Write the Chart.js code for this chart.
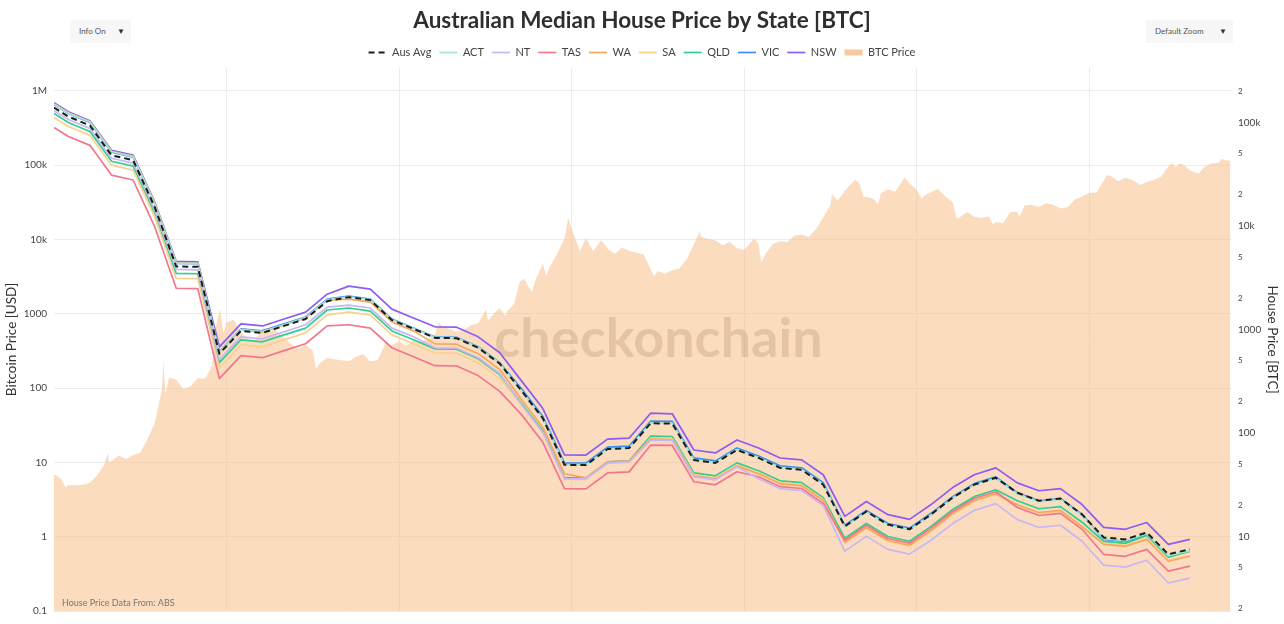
<!DOCTYPE html>
<html><head><meta charset="utf-8">
<script src="https://cdn.jsdelivr.net/npm/chart.js@4.4.1/dist/chart.umd.min.js"></script>
<style>
html,body{margin:0;padding:0;background:#fff;overflow:hidden;}
#wrap{position:relative;width:1284px;height:624px;}
canvas{display:block;}
.dd{position:absolute;top:20px;height:23px;background:#f7f7f7;font-family:Lato,'Open Sans',sans-serif;font-size:8px;color:#555;line-height:23px;box-sizing:border-box;padding-left:9px;}
.dd span{position:absolute;right:6px;top:0;font-size:8px;color:#333;}
</style></head><body>
<div id="wrap"><canvas id="c" width="1284" height="624"></canvas>
<div class="dd" style="left:70px;width:61px;">Info On<span>▼</span></div>
<div class="dd" style="left:1146px;width:87px;">Default Zoom<span>▼</span></div>
</div>
<script>
// ---- House price data (quarterly, in BTC) ----
const houseDates = ['2012-01','2012-03','2012-06','2012-09','2012-12','2013-03','2013-06','2013-09','2013-12',
 '2014-03','2014-06','2014-09','2014-12','2015-03','2015-06','2015-09','2015-12','2016-03','2016-06','2016-09','2016-12',
 '2017-03','2017-06','2017-09','2017-12','2018-03','2018-06','2018-09','2018-12','2019-03','2019-06','2019-09','2019-12',
 '2020-03','2020-06','2020-09','2020-12','2021-03','2021-06','2021-09','2021-12','2022-03','2022-06','2022-09','2022-12',
 '2023-03','2023-06','2023-09','2023-12','2024-03','2024-06','2024-09','2024-12','2025-03'];
const ausAvg = [139000,114000,93500,48200,43200,15300,4060,4030,582,968,925,1081,1262,1875,2051,1919,1233,1012,828,822,665,467,257,138,49.1,49.0,69.8,71.4,124,123,54.8,51.3,68.4,57.3,45.9,44.0,31.6,12.5,17.4,13.0,11.7,16.3,23.7,31.6,36.8,26.4,22.1,23.2,16.3,9.77,9.35,10.9,6.71,7.50];
const act = [150000,123000,101000,52100,46700,16500,4380,4350,599,997,953,1110,1300,1930,2070,1940,1245,1022,836,830,672,472,257,138,49.1,49.0,69.8,71.4,125,124,55.3,51.8,69.1,57.9,46.4,44.4,31.9,12.4,17.2,12.9,11.6,16.1,23.5,31.3,36.4,25.8,21.6,22.7,15.9,9.48,9.07,10.6,6.51,7.28];
const nt = [130000,107000,87500,45100,40400,14300,3800,3770,510,848,810,947,1110,1640,1720,1610,1030,848,664,659,533,375,189,101,36.0,36.0,51.2,52.4,85.2,84.5,37.6,35.2,47.0,36.0,28.9,27.7,19.9,7.20,10.0,7.49,6.74,9.18,13.3,17.8,20.7,14.5,12.2,12.8,8.98,5.27,5.04,5.88,3.54,3.95];
const tas = [89400,73300,60100,31000,27800,9840,2500,2480,335,558,533,623,727,1080,1110,1030,665,545,446,443,358,252,151,81.1,28.9,28.8,41.0,42.0,76.3,75.6,33.7,31.5,42.1,37.7,30.2,29.0,20.8,9.18,12.8,9.54,8.59,12.0,17.4,23.2,27.0,19.0,15.9,16.7,11.7,6.71,6.42,7.49,4.61,5.15];
const wa = [152000,124000,102000,52600,47200,16700,4400,4360,595,989,945,1100,1290,1920,1963,1836,1180,968,725,720,583,409,211,113,40.3,36.8,52.4,53.6,87.0,86.3,38.5,36.0,48.0,40.2,32.2,30.9,22.2,8.78,12.2,9.13,8.21,11.4,16.6,22.2,25.8,20.2,17.0,17.8,12.5,8.37,8.01,9.34,5.75,6.43];
const sa = [111000,91400,75000,38700,34600,12300,3110,3090,427,711,679,793,926,1380,1470,1380,885,727,595,590,477,335,186,100,35.6,35.5,50.6,51.8,89.0,88.3,39.3,36.8,49.1,41.1,33.0,31.6,22.7,8.59,12.0,8.93,8.04,11.2,16.3,21.7,25.3,19.8,16.6,17.4,12.2,8.56,8.19,9.55,5.88,6.57];
const qld = [122000,99900,81900,42200,37800,13400,3480,3450,477,794,759,886,1030,1540,1610,1500,967,793,649,644,521,366,193,104,36.8,36.8,52.4,53.6,93.0,92.3,41.1,38.5,51.3,43.0,34.4,33.0,23.7,9.59,13.3,9.97,8.97,12.5,18.2,24.2,28.2,22.1,18.5,19.4,13.7,8.95,8.56,10.2,6.28,7.18];
const vic = [149000,122000,100000,51500,46200,16400,4340,4310,608,1010,967,1130,1320,1960,2100,1960,1260,1030,846,840,680,477,269,144,51.3,51.2,72.9,74.6,130,129,57.3,53.6,71.5,59.9,48.0,46.0,33.0,12.8,17.8,13.3,12.0,16.7,24.2,32.3,37.6,26.4,22.1,23.2,16.3,9.35,8.95,10.4,6.42,7.18];
const nsw = [155000,127000,104000,53800,48300,17100,4540,4500,679,1130,1080,1260,1470,2190,2620,2450,1570,1290,1060,1050,848,595,320,172,61.2,61.1,87.0,89.0,155,153,68.3,64.0,85.3,71.5,57.2,54.9,39.4,15.6,21.7,16.2,14.6,20.3,29.6,39.4,45.9,32.9,27.6,28.9,20.3,12.2,11.7,13.6,8.37,9.35];

// ---- BTC price (USD) ----
const btcDates = ['2012-01-01','2012-01-15','2012-02-01','2012-02-20','2012-03-01','2012-04-01','2012-05-01','2012-06-01','2012-07-01','2012-08-01','2012-08-16','2012-08-20','2012-09-01','2012-10-01','2012-11-01','2012-12-01',
'2013-01-01','2013-02-01','2013-03-01','2013-04-01','2013-04-09','2013-04-16','2013-05-01','2013-06-01','2013-07-01','2013-08-01','2013-09-01','2013-10-01','2013-11-01','2013-11-18','2013-12-04','2013-12-18',
'2014-01-01','2014-02-01','2014-03-01','2014-04-01','2014-05-01','2014-06-01','2014-07-01','2014-08-01','2014-09-01','2014-10-01','2014-11-01','2014-12-01',
'2015-01-01','2015-01-14','2015-02-01','2015-03-01','2015-04-01','2015-05-01','2015-06-01','2015-07-01','2015-08-01','2015-09-01','2015-10-01','2015-11-04','2015-12-01',
'2016-01-01','2016-02-01','2016-03-01','2016-04-01','2016-05-01','2016-06-01','2016-06-17','2016-07-01','2016-08-01','2016-09-01','2016-10-01','2016-11-01','2016-12-01',
'2017-01-04','2017-01-12','2017-02-01','2017-03-01','2017-03-25','2017-04-01','2017-05-01','2017-05-25','2017-06-12','2017-07-15','2017-08-01','2017-09-01','2017-09-15','2017-10-01','2017-11-01','2017-12-01','2017-12-17',
'2018-01-01','2018-02-06','2018-03-01','2018-04-01','2018-05-05','2018-06-01','2018-07-01','2018-08-01','2018-09-01','2018-10-01','2018-11-01','2018-12-15',
'2019-01-01','2019-02-01','2019-03-01','2019-04-01','2019-05-01','2019-06-01','2019-06-26','2019-07-01','2019-08-01','2019-09-01','2019-10-01','2019-11-01','2019-12-01',
'2020-01-01','2020-02-12','2020-03-01','2020-03-13','2020-04-01','2020-05-01','2020-06-01','2020-07-01','2020-08-01','2020-09-01','2020-10-01','2020-11-01','2020-12-01',
'2021-01-01','2021-01-08','2021-02-01','2021-03-01','2021-04-14','2021-05-01','2021-05-19','2021-06-01','2021-07-01','2021-07-20','2021-08-01','2021-09-01','2021-10-01','2021-11-10','2021-12-01',
'2022-01-01','2022-01-24','2022-02-01','2022-03-01','2022-03-29','2022-05-01','2022-06-01','2022-06-18','2022-07-01','2022-08-01','2022-09-01','2022-10-01','2022-11-01','2022-11-21','2022-12-01',
'2023-01-01','2023-02-01','2023-03-01','2023-03-10','2023-04-01','2023-05-01','2023-06-01','2023-07-01','2023-08-01','2023-09-01','2023-10-01','2023-11-01','2023-12-01',
'2024-01-01','2024-02-01','2024-03-01','2024-03-14','2024-04-01','2024-05-01','2024-06-01','2024-07-01','2024-08-05','2024-09-01','2024-10-01','2024-11-01','2024-12-01','2024-12-17',
'2025-01-01','2025-01-20','2025-02-01','2025-03-01','2025-04-08','2025-05-01','2025-06-01','2025-07-01','2025-07-14','2025-08-01','2025-08-20'];
const btcPrice = [6.8,6.6,5.9,4.6,4.9,4.9,5.0,5.3,6.7,9.3,13.5,9.8,10.5,12.4,11.1,12.6,
13.5,20.4,33.4,93,230,82,139,129,97,106,135,133,198,700,1150,540,
755,830,560,455,445,630,640,585,480,390,338,378,
320,180,217,254,244,236,230,263,285,230,236,400,377,
430,368,437,416,448,531,760,673,624,573,609,700,743,
1130,800,970,1190,930,1080,1350,2700,2950,1950,2875,4700,3200,4340,6470,10200,19500,
14000,6900,10400,6900,9800,7500,6400,7730,7000,6600,6300,3200,
3740,3450,3850,4100,5350,8570,12900,10800,10100,9630,8300,9200,7570,
7200,10300,8600,4900,6440,8650,9460,9140,11300,11650,10780,13800,19700,
29000,40800,33100,45100,63500,57700,37000,37300,35000,29800,41500,47100,43800,67500,57000,
46300,35000,38500,43200,47400,37700,31800,19000,19800,23300,20100,19400,20500,15800,17200,
16500,23100,23600,20200,28500,29200,27200,30500,29200,26000,27000,34500,37700,
42300,42600,61200,73000,71300,60600,67500,62700,54000,59000,63300,70200,96400,106000,
93400,105000,102400,84400,77000,94200,104600,107100,121000,115700,114000];

// ---- axis ticks ----
const leftTicks = [0.1,1,10,100,1000,1e4,1e5,1e6];
const leftLabels = ['0.1','1','10','100','1000','10k','100k','1M'];
const rightTicks = [2,5,10,20,50,100,200,500,1000,2000,5000,1e4,2e4,5e4,1e5,2e5];
const rightLabels = ['2','5','10','2','5','100','2','5','1000','2','5','10k','2','5','100k','2'];
const yearGrid = [2014,2016,2018,2020,2022,2024];

const toYear = s => { const p = s.split('-').map(Number); return p[0] + (p[1]-1)/12 + ((p[2]||1)-1)/365.25; };
const hx = houseDates.map(toYear);
const pts = arr => arr.map((v,i)=>({x:hx[i], y:v}));
const btcPts = btcPrice.map((v,i)=>({x:toYear(btcDates[i]), y:v}));

const lineDs = (label, arr, color, extra={}) => Object.assign({
  label, data: pts(arr), borderColor: color, backgroundColor: color, borderWidth: 1.7,
  pointRadius: 0, tension: 0, fill: false, yAxisID: 'y1', borderJoinStyle: 'round'
}, extra);

const datasets = [
  lineDs('Aus Avg', ausAvg, '#1c1c1c', {borderDash:[6,4], borderWidth:2}),
  lineDs('ACT', act, '#a3e6cc'),
  lineDs('NT', nt, '#c9b6f4'),
  lineDs('TAS', tas, '#f3768d'),
  lineDs('WA', wa, '#f8a65c'),
  lineDs('SA', sa, '#f9d18f'),
  lineDs('QLD', qld, '#2fd08d'),
  lineDs('VIC', vic, '#3d8cf3'),
  lineDs('NSW', nsw, '#8b5cf6'),
  {label:'BTC Price', data: btcPts, isArea:true, borderWidth:0, borderColor:'rgba(0,0,0,0)',
   backgroundColor:'rgba(247,188,132,0.52)', fill:'start', pointRadius:0, tension:0, yAxisID:'y'}
];

const FONT = "Lato, 'Open Sans', sans-serif";
const overlay = {
  id: 'overlay',
  afterDatasetsDraw(chart) {
    const {ctx, chartArea: a} = chart;
    ctx.save();
    ctx.font = "bold 54px " + FONT;
    ctx.fillStyle = 'rgba(140,98,58,0.20)';
    ctx.textAlign = 'center'; ctx.textBaseline = 'middle';
    ctx.fillText('checkonchain', (a.left + a.right)/2 + 16, (a.top + a.bottom)/2);
    ctx.font = "9px " + FONT;
    ctx.fillStyle = '#777';
    ctx.textAlign = 'left'; ctx.textBaseline = 'alphabetic';
    ctx.fillText('House Price Data From: ABS', a.left + 8, a.bottom - 5);
    ctx.restore();
  }
};

new Chart(document.getElementById('c'), {
  type: 'line',
  data: { datasets },
  plugins: [overlay],
  options: {
    responsive: false, animation: false, devicePixelRatio: 1,
    layout: { padding: {top: 0, bottom: 0, left: 0, right: 0} },
    plugins: {
      tooltip: {enabled: false},
      title: { display: true, text: 'Australian Median House Price by State [BTC]', color: '#2e2e2e',
        font: {family: FONT, size: 22.5, weight: 'bold'}, padding: {top: 7, bottom: 5} },
      legend: { display: true, position: 'top',
        labels: { usePointStyle: true, pointStyleWidth: 18, boxHeight: 8, padding: 8, color: '#444',
          font: {family: FONT, size: 11},
          generateLabels(chart) {
            const items = Chart.defaults.plugins.legend.labels.generateLabels(chart);
            items.forEach(it => {
              const ds = chart.data.datasets[it.datasetIndex];
              it.pointStyle = 'line';
              if (ds.isArea) { it.strokeStyle = '#f8c99b'; it.lineWidth = 6; it.lineDash = []; }
              else { it.strokeStyle = ds.borderColor; it.lineWidth = ds.borderWidth; it.lineDash = ds.borderDash || []; }
            });
            return items;
          }
        }
      }
    },
    scales: {
      x: { type: 'linear', position: 'bottom', min: 2012.0, max: 2025.643,
        grid: {color: '#ececec', drawTicks: false}, border: {display: false}, ticks: {display: false},
        afterBuildTicks: s => { s.ticks = yearGrid.map(v => ({value: v})); },
        afterFit: s => { s.height = 5.5; } },
      y: { type: 'logarithmic', position: 'left', min: 0.1, max: 2.02e6,
        grid: {color: '#ececec', drawTicks: false}, border: {display: false},
        afterBuildTicks: s => { s.ticks = leftTicks.map(v => ({value: v})); },
        ticks: { color: '#444', padding: 7, font: {family: FONT, size: 10},
          callback: v => { const i = leftTicks.indexOf(v); return i >= 0 ? leftLabels[i] : ''; } },
        title: { display: true, text: 'Bitcoin Price [USD]', color: '#333', font: {family: FONT, size: 13.5}, padding: {top: 4, bottom: 0} },
        afterFit: s => { s.width = 54; } },
      y1: { type: 'logarithmic', position: 'right', min: 1.9, max: 3.36e5,
        grid: {display: false, drawTicks: false}, border: {display: false},
        afterBuildTicks: s => { s.ticks = rightTicks.map(v => ({value: v})); },
        ticks: { color: '#444', padding: 7,
          font: c => { const v = c.tick ? c.tick.value : 10; const major = Math.abs(Math.log10(v) - Math.round(Math.log10(v))) < 1e-6; return {family: FONT, size: major ? 10 : 8}; },
          callback: v => { const i = rightTicks.indexOf(v); return i >= 0 ? rightLabels[i] : ''; } },
        title: { display: true, text: 'House Price [BTC]', color: '#333', font: {family: FONT, size: 13.5}, padding: {top: 4, bottom: 0} },
        afterFit: s => { s.width = 53; } }
    }
  }
});
</script>
</body></html>
